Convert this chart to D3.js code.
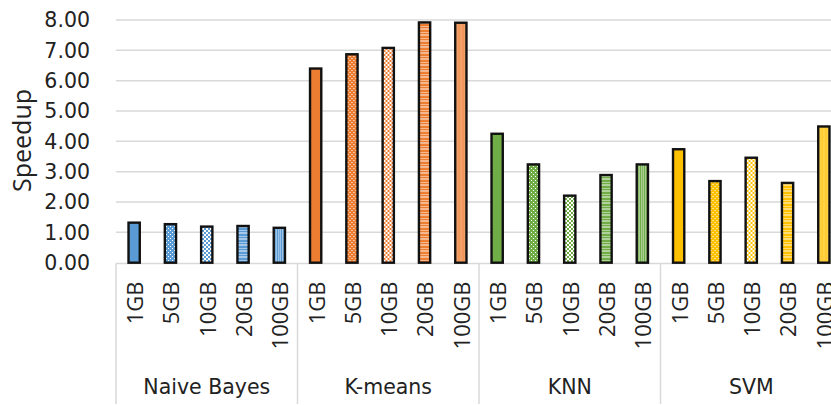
<!DOCTYPE html>
<html><head><meta charset="utf-8">
<script src="https://cdn.jsdelivr.net/npm/d3@7"></script>
<style>body{margin:0;background:#fff}svg{display:block}</style>
</head><body><svg id="c" width="831" height="405"></svg>
<script>
const groups = ["Naive Bayes","K-means","KNN","SVM"];
const sizes = ["1GB","5GB","10GB","20GB","100GB"];
const naiveBayes = [1.32,1.27,1.19,1.21,1.15];
const kmeans = [6.40,6.87,7.08,7.92,7.91];
const knn = [4.25,3.24,2.21,2.89,3.24];
const svm = [3.74,2.69,3.46,2.63,4.49];
const yTicks = [0,1,2,3,4,5,6,7,8];
const groupColors = ["#5b9bd5","#ed7d31","#70ad47","#ffc000"];
const series = [naiveBayes,kmeans,knn,svm];

const svg = d3.select("#c");
const font = "DejaVu Sans, sans-serif";
const font2 = "Open Sans, sans-serif";
const x0 = d3.scaleBand().domain(groups).range([116, 116+4*181.5]).padding(0);
const x1 = d3.scaleBand().domain(sizes).range([0, x0.bandwidth()]).paddingInner(0.69).paddingOuter(0.345);
const y = d3.scaleLinear().domain([0,8]).range([262.7,20]);

// patterns
const defs = svg.append("defs");
function tint(c,t){return d3.interpolateRgb(c,"#fff")(t);}
groupColors.forEach((c,i)=>{
  let p = defs.append("pattern").attr("id","p"+i+"_1").attr("patternUnits","userSpaceOnUse").attr("width",4).attr("height",4);
  p.append("rect").attr("width",4).attr("height",4).attr("fill",c);
  p.append("rect").attr("x",0).attr("y",0).attr("width",1).attr("height",1).attr("fill","#fff");
  p.append("rect").attr("x",2).attr("y",2).attr("width",1).attr("height",1).attr("fill","#fff");
  p = defs.append("pattern").attr("id","p"+i+"_2").attr("patternUnits","userSpaceOnUse").attr("width",4).attr("height",4);
  p.append("rect").attr("width",4).attr("height",4).attr("fill","#fff");
  p.append("rect").attr("x",0).attr("y",0).attr("width",2).attr("height",2).attr("fill",c);
  p.append("rect").attr("x",2).attr("y",2).attr("width",2).attr("height",2).attr("fill",c);
  p = defs.append("pattern").attr("id","p"+i+"_3").attr("patternUnits","userSpaceOnUse").attr("width",4).attr("height",6);
  p.append("rect").attr("width",4).attr("height",6).attr("fill",tint(c,0.45));
  p.append("rect").attr("y",0).attr("width",4).attr("height",2).attr("fill",c);
  p.append("rect").attr("y",3).attr("width",4).attr("height",1).attr("fill",c);
  p = defs.append("pattern").attr("id","p"+i+"_4").attr("patternUnits","userSpaceOnUse").attr("width",4).attr("height",4);
  p.append("rect").attr("width",4).attr("height",4).attr("fill",tint(c,0.4));
  p.append("rect").attr("x",1).attr("width",1).attr("height",4).attr("fill",c);
  p.append("rect").attr("x",3).attr("width",1).attr("height",4).attr("fill",tint(c,0.15));
});

svg.append("g").selectAll("line").data(yTicks.filter(d=>d>0)).join("line")
  .attr("x1",116).attr("x2",831).attr("y1",d=>y(d)).attr("y2",d=>y(d))
  .attr("stroke","#d9d9d9").attr("stroke-width",1.5);

svg.append("g").selectAll("text").data(yTicks).join("text")
  .attr("x",90).attr("y",d=>y(d)).attr("dy","0.36em").attr("text-anchor","end")
  .attr("font-family",font).attr("font-size",20.5).attr("fill","#222")
  .text(d=>d.toFixed(2));

svg.append("text").attr("transform","translate(31,140.5) rotate(-90)")
  .attr("text-anchor","middle").attr("font-family",font2).attr("font-size",25).attr("fill","#222")
  .text("Speedup");

const axisG = svg.append("g");
axisG.append("line").attr("x1",116).attr("x2",831).attr("y1",263.5).attr("y2",263.5).attr("stroke","#d9d9d9").attr("stroke-width",1.5);
const seps = groups.map(g=>x0(g)).concat([x0(groups[groups.length-1])+x0.bandwidth()]);
axisG.selectAll("line.sep").data(seps).join("line").attr("class","sep")
  .attr("x1",d=>d).attr("x2",d=>d).attr("y1",263.5).attr("y2",404).attr("stroke","#d9d9d9").attr("stroke-width",1.5);

groups.forEach((g,gi)=>{
  const gg = svg.append("g").attr("transform",`translate(${x0(g)},0)`);
  gg.selectAll("rect").data(series[gi]).join("rect")
    .attr("x",(d,i)=>x1(sizes[i])).attr("width",x1.bandwidth())
    .attr("y",d=>y(d)).attr("height",d=>y(0)-y(d))
    .attr("fill",(d,i)=> i===0 ? groupColors[gi] : `url(#p${gi}_${i})`)
    .attr("stroke","#111").attr("stroke-width",2.4);
  gg.selectAll("text").data(sizes).join("text")
    .attr("transform",d=>`translate(${x1(d)+x1.bandwidth()/2+1},281.5) rotate(-90)`)
    .attr("text-anchor","end").attr("dy","0.36em")
    .attr("font-family",font2).attr("font-size",22).attr("fill","#222")
    .text(d=>d);
  gg.append("text").attr("x",x0.bandwidth()/2).attr("y",394)
    .attr("text-anchor","middle").attr("font-family",font).attr("font-size",20.5).attr("fill","#222")
    .text(g);
});
</script></body></html>
